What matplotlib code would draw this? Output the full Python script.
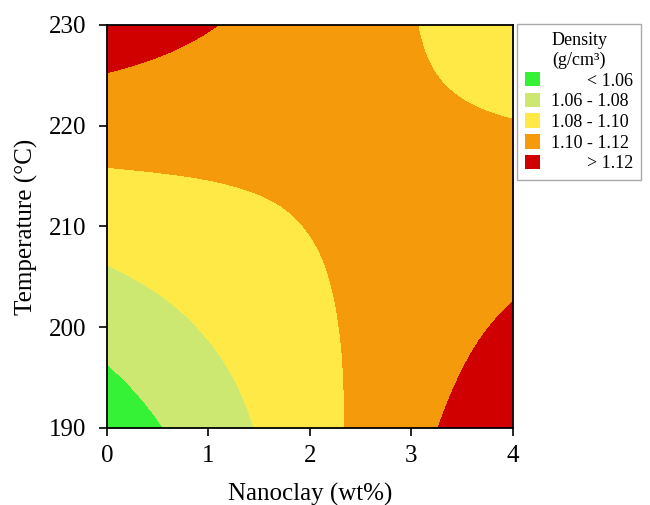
import matplotlib
matplotlib.use("Agg")
from matplotlib import pyplot as plt
from matplotlib.patches import Patch
from matplotlib.transforms import Affine2D
import matplotlib.tri as mtri
import numpy as np

plt.rcParams['font.family'] = ['Liberation Serif', 'DejaVu Serif']

# nanoclay content (wt%) and temperature (C) of the grid
nanoclay = [0, 0.5, 1, 1.5, 2, 2.5, 3, 3.5, 4]
temperature = [190, 195, 200, 205, 210, 215, 220, 225, 230]

# density (g/cm3), one row per temperature
density = [
    [1.0479, 1.0588, 1.0699, 1.0811, 1.0923, 1.1035, 1.1144, 1.1249, 1.1348],
    [1.0574, 1.0664, 1.0755, 1.0847, 1.0939, 1.1031, 1.1120, 1.1206, 1.1287],
    [1.0674, 1.0744, 1.0816, 1.0887, 1.0959, 1.1030, 1.1100, 1.1167, 1.1229],
    [1.0776, 1.0827, 1.0878, 1.0930, 1.0981, 1.1032, 1.1082, 1.1129, 1.1172],
    [1.0879, 1.0910, 1.0942, 1.0973, 1.1004, 1.1034, 1.1064, 1.1092, 1.1117],
    [1.0982, 1.0994, 1.1005, 1.1016, 1.1026, 1.1036, 1.1046, 1.1054, 1.1061],
    [1.1087, 1.1079, 1.1070, 1.1060, 1.1049, 1.1039, 1.1029, 1.1018, 1.1007],
    [1.1194, 1.1167, 1.1137, 1.1106, 1.1075, 1.1045, 1.1015, 1.0985, 1.0955],
    [1.1307, 1.1259, 1.1210, 1.1158, 1.1107, 1.1056, 1.1006, 1.0958, 1.0910],
]

levels = [0.9, 1.06, 1.08, 1.10, 1.12, 1.3]
colors = ['#36f236', '#cde870', '#ffe946', '#f59a0a', '#d00000']
legend_labels = ['        < 1.06', '1.06 - 1.08', '1.08 - 1.10', '1.10 - 1.12', '        > 1.12']

fig = plt.figure(figsize=(6.5, 5.05), dpi=100)
ax = fig.add_axes([0.1646, 0.1525, 0.6246, 0.798])

# grid in scaled units (temperature / 10) so the smoothing treats both axes alike
gx, gt = np.meshgrid(nanoclay, np.array(temperature) / 10.0)
tri = mtri.Triangulation(gx.ravel(), gt.ravel())
refiner = mtri.UniformTriRefiner(tri)
tri_f, z_f = refiner.refine_field(np.array(density).ravel(), subdiv=3)
to_data = Affine2D().scale(1, 10) + ax.transData
ax.tricontourf(tri_f, z_f, levels=levels, colors=colors, transform=to_data)

ax.set_xlim(0, 4)
ax.set_ylim(190, 230)
ax.set_xticks([0, 1, 2, 3, 4])
ax.set_yticks([190, 200, 210, 220, 230])
ax.tick_params(axis='both', direction='out', length=6, width=1.2, labelsize=18)
ax.tick_params(axis='y', pad=9)
ax.tick_params(axis='x', pad=6)
for s in ax.spines.values():
    s.set_linewidth(1.3)
    s.set_zorder(5)

ax.set_xlabel('Nanoclay (wt%)', fontsize=18, labelpad=12)
ax.set_ylabel('Temperature (°C)', fontsize=18, labelpad=8)

handles = [Patch(facecolor=c, edgecolor='none') for c in colors]
leg = fig.legend(handles, legend_labels, loc='upper left', bbox_to_anchor=(0.795, 0.953),
                 title='Density\n(g/cm³)', fontsize=13, title_fontsize=13,
                 frameon=True, fancybox=False, edgecolor='#aaaaaa', framealpha=1,
                 handlelength=0.85, handleheight=0.85, handletextpad=0.6,
                 labelspacing=0.18, borderpad=0.45, borderaxespad=0)
leg.get_frame().set_linewidth(1.0)
leg.get_title().set_multialignment('center')

fig.savefig('out.png', dpi=100)
